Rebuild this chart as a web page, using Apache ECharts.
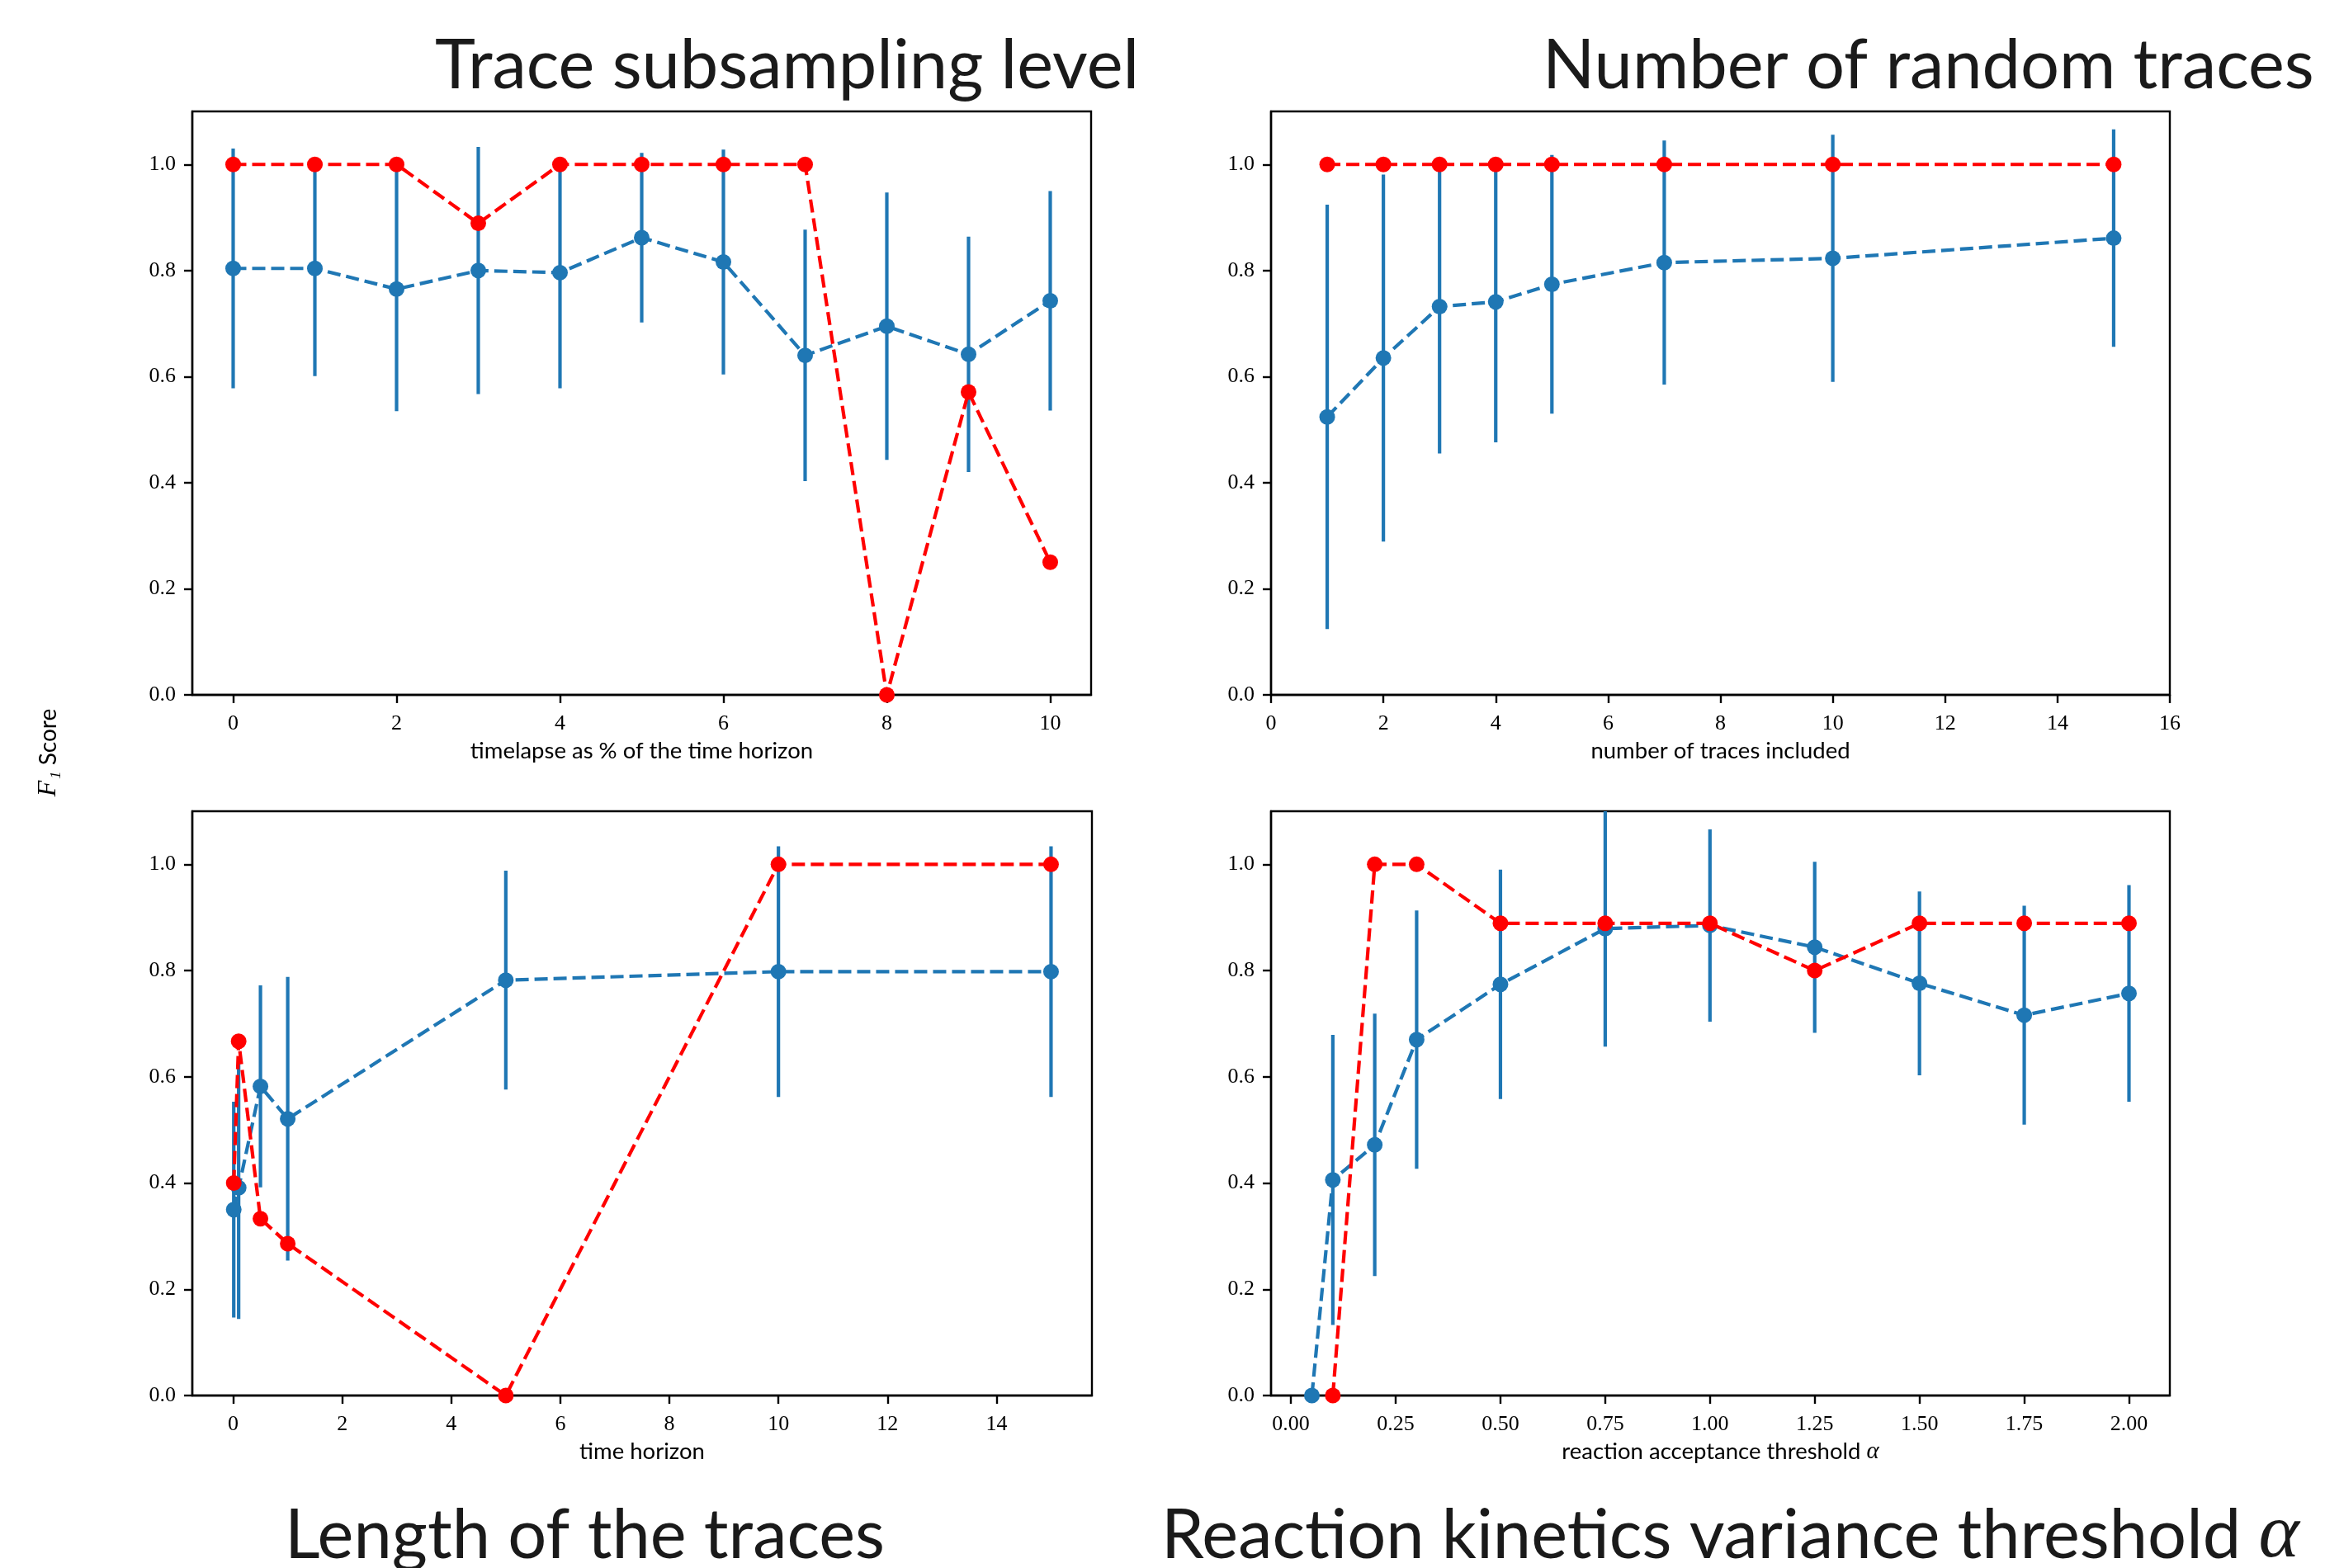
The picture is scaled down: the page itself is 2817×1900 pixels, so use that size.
<!DOCTYPE html>
<html>
<head>
<meta charset="utf-8">
<script src="https://cdn.jsdelivr.net/npm/echarts@6/dist/echarts.min.js"></script>
<style>
  html, body { margin: 0; padding: 0; background: #fff; }
  #chart { width: 2817px; height: 1900px; }
</style>
</head>
<body>
<div id="chart"></div>
<script>
  // trace subsampling level
  const subX = [0, 1, 2, 3, 4, 5, 6, 7, 8, 9, 10]
  const subMean = [0.804, 0.804, 0.765, 0.800, 0.796, 0.862, 0.816, 0.640, 0.695, 0.642, 0.743]
  const subStd = [0.226, 0.203, 0.230, 0.233, 0.218, 0.160, 0.212, 0.237, 0.252, 0.222, 0.207]
  const subBest = [1, 1, 1, 0.889, 1, 1, 1, 1, 0, 0.571, 0.25]

  // number of random traces
  const tracesX = [1, 2, 3, 4, 5, 7, 10, 15]
  const tracesMean = [0.524, 0.635, 0.732, 0.741, 0.774, 0.815, 0.823, 0.861]
  const tracesStd = [0.400, 0.346, 0.277, 0.265, 0.244, 0.230, 0.233, 0.205]
  const tracesBest = [1, 1, 1, 1, 1, 1, 1, 1]

  // length of the traces
  const lengthX = [0.01, 0.1, 0.5, 1, 5, 10, 15]
  const lengthMean = [0.350, 0.391, 0.582, 0.521, 0.782, 0.798, 0.798]
  const lengthStd = [0.203, 0.247, 0.190, 0.267, 0.206, 0.236, 0.236]
  const lengthBest = [0.4, 0.667, 0.333, 0.286, 0, 1, 1]

  // reaction kinetics variance threshold
  const alphaX = [0.05, 0.1, 0.2, 0.3, 0.5, 0.75, 1.0, 1.25, 1.5, 1.75, 2.0]
  const alphaMean = [0, 0.406, 0.472, 0.670, 0.774, 0.879, 0.885, 0.844, 0.776, 0.716, 0.757]
  const alphaStd = [0, 0.273, 0.247, 0.243, 0.216, 0.222, 0.181, 0.161, 0.173, 0.206, 0.204]
  const alphaBestX = [0.1, 0.2, 0.3, 0.5, 0.75, 1.0, 1.25, 1.5, 1.75, 2.0]
  const alphaBest = [0, 1, 1, 0.889, 0.889, 0.889, 0.8, 0.889, 0.889, 0.889]

  // tick labels
  const yTicks = [0, 0.2, 0.4, 0.6, 0.8, 1.0]
  const subTicks = [0, 2, 4, 6, 8, 10]
  const tracesTicks = [0, 2, 4, 6, 8, 10, 12, 14, 16]
  const lengthTicks = [0, 2, 4, 6, 8, 10, 12, 14]
  const alphaTicks = [0, 0.25, 0.5, 0.75, 1.0, 1.25, 1.5, 1.75, 2.0]

  const BLUE = '#1f77b4'
  const RED = '#ff0000'
  const SERIF = '"Liberation Serif", "DejaVu Serif", serif'
  const SANS = 'Lato, "Open Sans", sans-serif'

  const grids = [
    { left: 233, top: 135, width: 1089, height: 707 },
    { left: 1540, top: 135, width: 1089, height: 707 },
    { left: 233, top: 983, width: 1090, height: 708 },
    { left: 1540, top: 983, width: 1089, height: 708 }
  ]

  function tickFmt(digits) {
    return v => Number(v).toFixed(digits)
  }

  function xAxis(idx, min, max, ticks, digits, name) {
    return {
      type: 'value', gridIndex: idx, min: min, max: max,
      axisLine: { show: true, onZero: false, lineStyle: { color: '#000', width: 2.4 } },
      axisTick: { show: true, customValues: ticks, length: 10, lineStyle: { color: '#000', width: 2.4 } },
      axisLabel: { customValues: ticks, formatter: tickFmt(digits), margin: 22,
        fontFamily: SERIF, fontSize: 26, color: '#000' },
      splitLine: { show: false },
      name: name, nameLocation: 'middle', nameGap: 54,
      nameTextStyle: { fontFamily: SANS, fontSize: 27.5, color: '#000',
        rich: { a: { fontFamily: SERIF, fontStyle: 'italic', fontSize: 29, color: '#000' } } }
    }
  }

  function yAxis(idx) {
    return {
      type: 'value', gridIndex: idx, min: 0, max: 1.1,
      axisLine: { show: true, onZero: false, lineStyle: { color: '#000', width: 2.4 } },
      axisTick: { show: true, customValues: yTicks, length: 10, lineStyle: { color: '#000', width: 2.4 } },
      axisLabel: { customValues: yTicks, formatter: tickFmt(1), margin: 20,
        fontFamily: SERIF, fontSize: 26, color: '#000' },
      splitLine: { show: false }
    }
  }

  function errorBars(idx, xs, means, stds) {
    return {
      type: 'custom', xAxisIndex: idx, yAxisIndex: idx, z: 2, silent: true,
      data: xs.map((x, i) => [x, means[i] - stds[i], means[i] + stds[i]]),
      renderItem: (params, api) => {
        const lo = api.coord([api.value(0), api.value(1)])
        const hi = api.coord([api.value(0), api.value(2)])
        const top = params.coordSys.y
        return {
          type: 'line',
          shape: { x1: lo[0], y1: lo[1], x2: hi[0], y2: Math.max(hi[1], top) },
          style: { stroke: BLUE, lineWidth: 4.2 }
        }
      }
    }
  }

  function dashedLine(idx, xs, ys, color, z) {
    return {
      type: 'line', xAxisIndex: idx, yAxisIndex: idx, z: z,
      data: xs.map((x, i) => [x, ys[i]]),
      symbol: 'circle', symbolSize: 19,
      lineStyle: { color: color, width: 4.2, type: [16, 7] },
      itemStyle: { color: color, borderWidth: 0 },
      emphasis: { disabled: true }
    }
  }

  const chart = echarts.init(document.getElementById('chart'))
  chart.setOption({
    animation: false,
    backgroundColor: '#fff',
    grid: grids.map(g => Object.assign({ show: true, borderColor: '#000', borderWidth: 2.4 }, g)),
    xAxis: [
      xAxis(0, -0.5, 10.5, subTicks, 0, 'timelapse as % of the time horizon'),
      xAxis(1, 0, 16, tracesTicks, 0, 'number of traces included'),
      xAxis(2, -0.75, 15.75, lengthTicks, 0, 'time horizon'),
      xAxis(3, -0.0475, 2.0975, alphaTicks, 2, 'reaction acceptance threshold {a|α}')
    ],
    yAxis: [yAxis(0), yAxis(1), yAxis(2), yAxis(3)],
    series: [
      errorBars(0, subX, subMean, subStd),
      dashedLine(0, subX, subMean, BLUE, 3),
      dashedLine(0, subX, subBest, RED, 4),
      errorBars(1, tracesX, tracesMean, tracesStd),
      dashedLine(1, tracesX, tracesMean, BLUE, 3),
      dashedLine(1, tracesX, tracesBest, RED, 4),
      errorBars(2, lengthX, lengthMean, lengthStd),
      dashedLine(2, lengthX, lengthMean, BLUE, 3),
      dashedLine(2, lengthX, lengthBest, RED, 4),
      errorBars(3, alphaX, alphaMean, alphaStd),
      dashedLine(3, alphaX, alphaMean, BLUE, 3),
      dashedLine(3, alphaBestX, alphaBest, RED, 4)
    ],
    graphic: [
      { type: 'text', x: 527, y: 80, style: { text: 'Trace subsampling level', font: '83px ' + SANS, fill: '#1a1a1a', verticalAlign: 'middle' } },
      { type: 'text', x: 1869, y: 80, style: { text: 'Number of random traces', font: '83px ' + SANS, fill: '#1a1a1a', verticalAlign: 'middle' } },
      { type: 'text', x: 345, y: 1861, style: { text: 'Length of the traces', font: '83px ' + SANS, fill: '#1a1a1a', verticalAlign: 'middle' } },
      { type: 'text', x: 1407, y: 1861, style: {
        text: 'Reaction kinetics variance threshold {a|α}', font: '83px ' + SANS, fill: '#1a1a1a', verticalAlign: 'middle',
        rich: { a: { fontFamily: SERIF, fontStyle: 'italic', fontSize: 94, fill: '#1a1a1a' } } } },
      { type: 'text', x: 59, y: 912, rotation: Math.PI / 2, style: {
        text: '{f|F₁} Score', font: '28px ' + SANS, fill: '#000', align: 'center', verticalAlign: 'middle',
        rich: { f: { fontFamily: SERIF, fontStyle: 'italic', fontSize: 32, fill: '#000' } } } }
    ]
  })
</script>
</body>
</html>
